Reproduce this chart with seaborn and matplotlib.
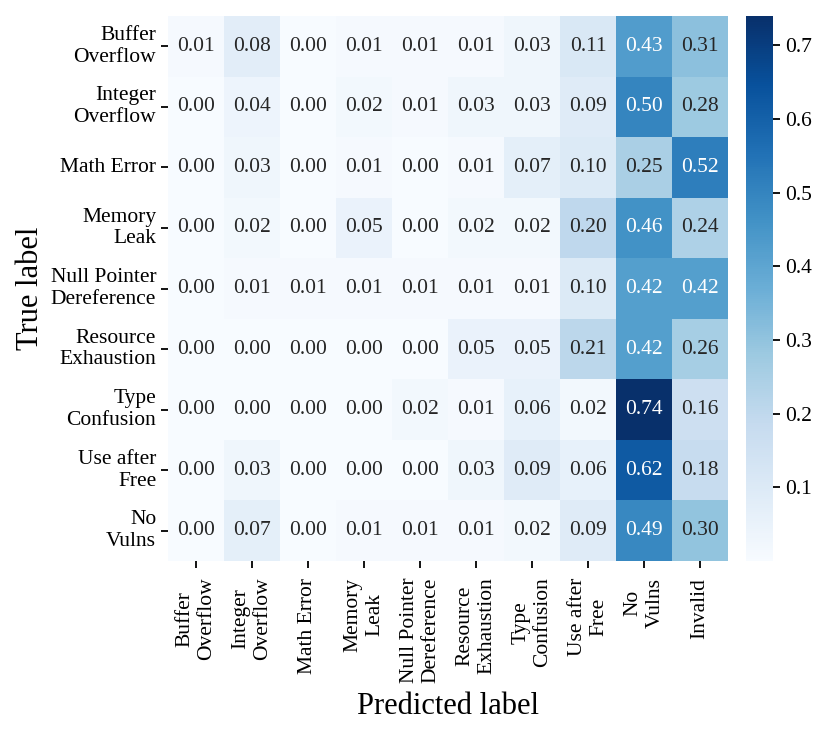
import matplotlib
matplotlib.use("Agg")
import matplotlib.pyplot as plt
import seaborn as sns
import numpy as np
import pandas as pd

row_labels = ["Buffer\nOverflow", "Integer\nOverflow", "Math Error", "Memory\nLeak",
              "Null Pointer\nDereference", "Resource\nExhaustion", "Type\nConfusion",
              "Use after\nFree", "No\nVulns"]
col_labels = ["Buffer\nOverflow", "Integer\nOverflow", "Math Error", "Memory\nLeak",
              "Null Pointer\nDereference", "Resource\nExhaustion", "Type\nConfusion",
              "Use after\nFree", "No\nVulns", "Invalid"]

row_buffer = [0.01, 0.08, 0.00, 0.01, 0.01, 0.01, 0.03, 0.11, 0.43, 0.31]
row_integer = [0.00, 0.04, 0.00, 0.02, 0.01, 0.03, 0.03, 0.09, 0.50, 0.28]
row_math = [0.00, 0.03, 0.00, 0.01, 0.00, 0.01, 0.07, 0.10, 0.25, 0.52]
row_memory = [0.00, 0.02, 0.00, 0.05, 0.00, 0.02, 0.02, 0.20, 0.46, 0.24]
row_null = [0.00, 0.01, 0.01, 0.01, 0.01, 0.01, 0.01, 0.10, 0.42, 0.42]
row_resource = [0.00, 0.00, 0.00, 0.00, 0.00, 0.05, 0.05, 0.21, 0.42, 0.26]
row_type = [0.00, 0.00, 0.00, 0.00, 0.02, 0.01, 0.06, 0.02, 0.74, 0.16]
row_uaf = [0.00, 0.03, 0.00, 0.00, 0.00, 0.03, 0.09, 0.06, 0.62, 0.18]
row_novuln = [0.00, 0.07, 0.00, 0.01, 0.01, 0.01, 0.02, 0.09, 0.49, 0.30]

matrix = pd.DataFrame([row_buffer, row_integer, row_math, row_memory, row_null,
                       row_resource, row_type, row_uaf, row_novuln],
                      index=row_labels, columns=col_labels)

plt.rcParams['font.family'] = ['Liberation Serif', 'DejaVu Serif']
plt.rcParams['mathtext.fontset'] = 'stix'

W, H = 831, 736
fig = plt.figure(figsize=(W / 100, H / 100), dpi=100)
ax = fig.add_axes([168 / W, 1 - 561 / H, 560 / W, 545 / H])
cax = fig.add_axes([745.5 / W, 1 - 561 / H, 27.5 / W, 545 / H])

sns.heatmap(matrix, ax=ax, cbar_ax=cax, cmap="Blues", annot=True, fmt=".2f",
            annot_kws={"fontsize": 15.5})

ax.set_xlabel("Predicted label", fontsize=22, labelpad=6)
ax.set_ylabel("True label", fontsize=22, labelpad=4)
ax.tick_params(axis='both', labelsize=15.5, length=5, width=1.3)
ax.tick_params(axis='x', pad=7)
ax.set_xticklabels(col_labels, rotation=90, fontsize=15.5)
ax.set_yticklabels(row_labels, rotation=0, fontsize=15.5)
cax.tick_params(labelsize=15.5, length=5, width=1.3)
cax.set_yticks([0.1, 0.2, 0.3, 0.4, 0.5, 0.6, 0.7])

fig.savefig("out.png", dpi=100)
